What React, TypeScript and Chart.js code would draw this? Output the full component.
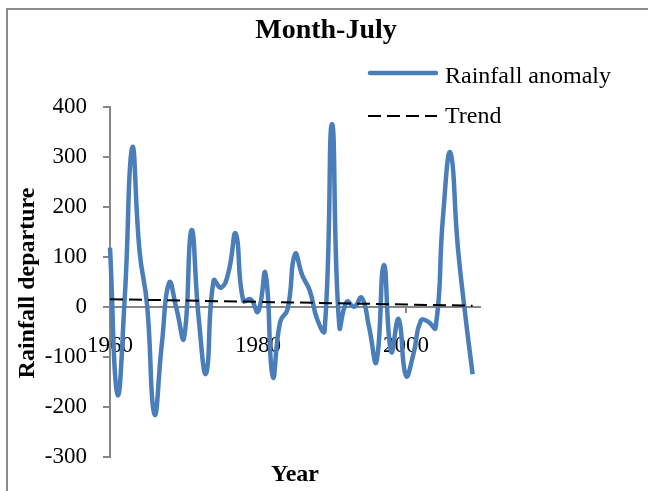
import { useEffect, useRef } from "react";
import { Chart, registerables } from "chart.js";

Chart.register(...registerables);

const titleText = "Month-July";
const seriesName = "Rainfall anomaly";
const trendName = "Trend";
const xTitle = "Year";
const yTitle = "Rainfall departure";

const years = [
  1960, 1961, 1962, 1963, 1964, 1965, 1966, 1967, 1968, 1969,
  1970, 1971, 1972, 1973, 1974, 1975, 1976, 1977, 1978, 1979,
  1980, 1981, 1982, 1983, 1984, 1985, 1986, 1987, 1988, 1989,
  1990, 1991, 1992, 1993, 1994, 1995, 1996, 1997, 1998, 1999,
  2000, 2001, 2002, 2003, 2004, 2005, 2006, 2007, 2008, 2009,
];

const rainfallAnomaly = [
  118, -175, 20, 318, 110, 5, -215, -75, 48, -5,
  -63, 153, -25, -133, 52, 38, 68, 146, 12, 15,
  -10, 67, -140, -30, -5, 105, 62, 32, -25, -48,
  365, -40, 10, 0, 18, -40, -110, 83, -90, -25,
  -138, -95, -28, -30, -42, 180, 308, 120, -15, -135,
];

const trendYears = [1960, 2009];
const trendValues = [15, 2];

const xTickValues = [1960, 1980, 2000];
const xMin = 1960;
const xMax = 2010;
const yMin = -300;
const yMax = 400;
const yStep = 100;

const BLUE = "#4a7ebb";
const AXIS = "#868686";
const SERIF = '"Liberation Serif", "Times New Roman", serif';

const overlay = {
  id: "overlay",
  beforeDraw(chart: any) {
    const ctx = chart.ctx;
    ctx.save();
    ctx.fillStyle = "#ffffff";
    ctx.fillRect(0, 0, chart.width, chart.height);
    ctx.strokeStyle = "#8c8c8c";
    ctx.lineWidth = 2;
    ctx.strokeRect(7, 9, 800, 700);
    ctx.restore();
  },
  afterDraw(chart: any) {
    const ctx = chart.ctx;
    ctx.save();
    ctx.fillStyle = "#000";
    ctx.textBaseline = "alphabetic";
    // title
    ctx.font = `bold 28px ${SERIF}`;
    ctx.textAlign = "center";
    ctx.fillText(titleText, 326, 38);
    // legend
    ctx.textAlign = "left";
    ctx.font = `24px ${SERIF}`;
    ctx.strokeStyle = BLUE;
    ctx.lineWidth = 4.5;
    ctx.lineCap = "round";
    ctx.beginPath();
    ctx.moveTo(370, 73);
    ctx.lineTo(436, 73);
    ctx.stroke();
    ctx.fillText(seriesName, 445, 83);
    ctx.strokeStyle = "#000";
    ctx.lineWidth = 2;
    ctx.lineCap = "butt";
    ctx.setLineDash([13, 6]);
    ctx.beginPath();
    ctx.moveTo(368, 116);
    ctx.lineTo(437, 116);
    ctx.stroke();
    ctx.setLineDash([]);
    ctx.fillText(trendName, 445, 123);
    // axis titles
    ctx.font = `bold 24px ${SERIF}`;
    ctx.textAlign = "center";
    ctx.fillText(xTitle, 295, 481);
    ctx.translate(34, 283);
    ctx.rotate(-Math.PI / 2);
    ctx.fillText(yTitle, 0, 0);
    ctx.restore();
  },
};

export default function App() {
  const ref = useRef<HTMLCanvasElement | null>(null);

  useEffect(() => {
    if (!ref.current) return;
    const chart = new Chart(ref.current, {
      type: "line",
      data: {
        datasets: [
          {
            label: trendName,
            data: trendYears.map((x, i) => ({ x, y: trendValues[i] })),
            borderColor: "#000",
            borderWidth: 2,
            borderDash: [13, 6],
            pointRadius: 0,
            tension: 0,
            order: 0,
          },
          {
            label: seriesName,
            data: years.map((x, i) => ({ x, y: rainfallAnomaly[i] })),
            borderColor: BLUE,
            borderWidth: 4.5,
            pointRadius: 0,
            tension: 0.5,
            order: 1,
            clip: false as any,
          },
        ],
      },
      options: {
        animation: false,
        responsive: false,
        maintainAspectRatio: false,
        devicePixelRatio: 1,
        layout: { padding: { left: 0, top: 106.7, right: 168, bottom: 34.3 } },
        plugins: {
          legend: { display: false },
          title: { display: false },
          tooltip: { enabled: false },
        },
        scales: {
          x: {
            type: "linear",
            position: { y: 0 } as any,
            min: xMin,
            max: xMax,
            afterBuildTicks: (scale: any) => {
              scale.ticks = xTickValues.map((v) => ({ value: v }));
            },
            ticks: {
              color: "#000",
              font: { family: SERIF, size: 23 },
              padding: 20,
              maxRotation: 0,
              autoSkip: false,
              callback: (v: any) => String(v),
            },
            grid: {
              drawOnChartArea: false,
              drawTicks: true,
              tickLength: 5,
              color: AXIS,
              lineWidth: 2,
            },
            border: { display: true, color: AXIS, width: 2 },
          },
          y: {
            type: "linear",
            min: yMin,
            max: yMax,
            afterFit: (scale: any) => {
              scale.width = 110;
            },
            ticks: {
              stepSize: yStep,
              color: "#000",
              font: { family: SERIF, size: 23 },
              padding: 16,
              callback: (v: any) => String(v),
            },
            grid: {
              drawOnChartArea: false,
              drawTicks: true,
              tickLength: 7,
              color: AXIS,
              lineWidth: 2,
            },
            border: { display: true, color: AXIS, width: 2 },
          },
        },
      },
      plugins: [overlay],
    });
    return () => chart.destroy();
  }, []);

  return (
    <div style={{ position: "fixed", left: 0, top: 0, width: 648, height: 491, background: "#fff" }}>
      <canvas ref={ref} width={648} height={491} style={{ width: 648, height: 491, display: "block" }} />
    </div>
  );
}
